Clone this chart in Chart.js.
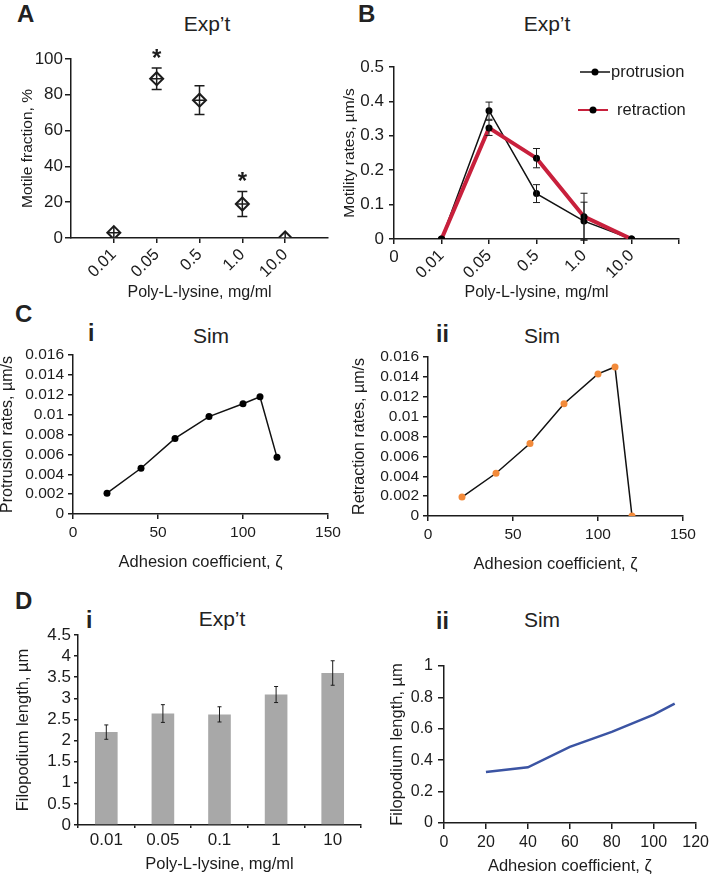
<!DOCTYPE html>
<html>
<head>
<meta charset="utf-8">
<script src="https://cdn.jsdelivr.net/npm/chart.js@4.4.1/dist/chart.umd.min.js"></script>
<style>
  body { margin: 0; width: 713px; height: 875px; position: relative; overflow: hidden; background: #fff;
         font-family: "Liberation Sans", Arial, sans-serif; color: #222; }
  canvas { position: absolute; }
  .lab { position: absolute; font-weight: bold; font-size: 24px; line-height: 1; }
  .sub { position: absolute; font-weight: bold; font-size: 23px; line-height: 1; }
  .ttl { position: absolute; font-size: 21px; line-height: 1; transform: translateX(-50%); white-space: nowrap; }
</style>
</head>
<body>
<div class="lab" style="left:17px;top:2px">A</div>
<div class="lab" style="left:358px;top:2px">B</div>
<div class="lab" style="left:15px;top:302px">C</div>
<div class="lab" style="left:15px;top:589px">D</div>
<div class="sub" style="left:88px;top:322px">i</div>
<div class="sub" style="left:436px;top:323px">ii</div>
<div class="sub" style="left:86px;top:609px">i</div>
<div class="sub" style="left:436px;top:610px">ii</div>
<div class="ttl" style="left:207px;top:13px">Exp’t</div>
<div class="ttl" style="left:547px;top:13px">Exp’t</div>
<div class="ttl" style="left:211px;top:325px">Sim</div>
<div class="ttl" style="left:542px;top:325px">Sim</div>
<div class="ttl" style="left:222px;top:608px">Exp’t</div>
<div class="ttl" style="left:542px;top:609px">Sim</div>
<script>
// A: motile fraction
const aLabels = ['0.01', '0.05', '0.5', '1.0', '10.0'];
const aMotile = [3, 89, 77, 19, 0];
const aErr = [0, 6, 8, 7, 0];
const aStar = [false, true, false, true, false];

// B: motility rates
const bLabels = ['0.01', '0.05', '0.5', '1.0', '10.0'];
const bProtrusion = [0, 0.373, 0.132, 0.052, 0];
const bProtErr = [0, 0.025, 0.026, 0.055, 0];
const bRetraction = [0, 0.323, 0.235, 0.065, 0];
const bRetrErr = [0, 0.022, 0.028, 0.068, 0];

// C: simulation rates
const adhesion = [20, 40, 60, 80, 100, 110, 120];
const cProtrusion = [0.0021, 0.0046, 0.0076, 0.0098, 0.0111, 0.0118, 0.0057];
const cRetraction = [0.0019, 0.0043, 0.0073, 0.0113, 0.0143, 0.0150, 0];

// D: filopodium length
const dLabels = ['0.01', '0.05', '0.1', '1', '10'];
const dLength = [2.2, 2.64, 2.62, 3.09, 3.6];
const dErr = [0.17, 0.21, 0.18, 0.19, 0.29];
const dSimX = [20, 40, 60, 80, 100, 110];
const dSimLength = [0.325, 0.355, 0.485, 0.58, 0.69, 0.76];

const INK = '#1c1c1c';
const RED = '#c8203c';
const ORANGE = '#f28a3a';
const BLUE = '#3b54a3';

Chart.defaults.font.family = '"Liberation Sans", Arial, sans-serif';
Chart.defaults.color = INK;
Chart.defaults.animation = false;
Chart.defaults.events = [];
Chart.defaults.plugins.legend.display = false;
Chart.defaults.plugins.tooltip.enabled = false;

const fmt = v => String(+(+v).toFixed(4));

function axis(o) {
  const a = {
    type: o.type || 'linear',
    min: o.min, max: o.max,
    offset: !!o.offset,
    border: { color: INK, width: o.lw || 1.5 },
    grid: { drawOnChartArea: false, color: INK, lineWidth: o.lw || 1.5, tickLength: o.tick, offset: !!o.offset },
    ticks: { font: { size: o.font }, padding: o.pad, stepSize: o.step, callback: o.cb || fmt,
             minRotation: o.rot || 0, maxRotation: o.rot || 0, autoSkip: false, color: INK },
    title: { display: true, text: o.title, font: { size: o.tfont || 16, lineHeight: 1 }, padding: 0, color: INK }
  };
  if (o.only) a.afterBuildTicks = s => { s.ticks = o.only.map(v => ({ value: v })); };
  return a;
}

// place a chart so its plot area lands on the given page box
function panel(box, plot, cfg) {
  const c = document.createElement('canvas');
  c.width = box.right - box.left;
  c.height = box.bottom - box.top;
  c.style.left = box.left + 'px';
  c.style.top = box.top + 'px';
  document.body.appendChild(c);
  cfg.options.responsive = false;
  cfg.options.layout = { padding: { left: 0, bottom: 0, top: plot.top - box.top, right: box.right - plot.right } };
  cfg.options.scales.x.afterFit = s => { s.height = box.bottom - plot.bottom; };
  cfg.options.scales.y.afterFit = s => { s.width = plot.left - box.left; };
  return new Chart(c, cfg);
}

function errBars(sets, after) {
  const draw = chart => {
    const { ctx, scales: { y } } = chart;
    ctx.save();
    sets.forEach(s => {
      chart.getDatasetMeta(s.ds).data.forEach((el, i) => {
        const e = s.err[i];
        if (!e) return;
        const y1 = y.getPixelForValue(s.vals[i] - e), y2 = y.getPixelForValue(s.vals[i] + e);
        ctx.strokeStyle = s.color;
        ctx.lineWidth = s.lw;
        ctx.beginPath();
        ctx.moveTo(el.x, y1); ctx.lineTo(el.x, y2);
        ctx.moveTo(el.x - s.cap, y1); ctx.lineTo(el.x + s.cap, y1);
        ctx.moveTo(el.x - s.cap, y2); ctx.lineTo(el.x + s.cap, y2);
        ctx.stroke();
      });
    });
    ctx.restore();
  };
  return after ? { id: 'errA', afterDatasetsDraw: draw } : { id: 'errB', beforeDatasetsDraw: draw };
}

// ---- A
const aPts = aMotile.map((v, i) => ({ x: i + 1, y: v }));
panel({ left: 20, top: 45, right: 345, bottom: 301 }, { left: 71, top: 59, right: 328, bottom: 238 }, {
  type: 'scatter',
  data: { datasets: [
    { data: aPts, pointStyle: 'cross', pointRadius: 6.5, borderColor: INK, borderWidth: 1.5 },
    { data: aPts, pointStyle: 'rectRot', pointRadius: 6.5, backgroundColor: '#fff', borderColor: INK, borderWidth: 2 }
  ] },
  options: { scales: {
    x: axis({ min: 0, max: 6, only: [1, 2, 3, 4, 5], cb: v => aLabels[v - 1] || '', rot: 45, font: 16.5, pad: 2, tick: 5,
              title: 'Poly-L-lysine, mg/ml' }),
    y: axis({ min: 0, max: 100, step: 20, font: 17, pad: 2, tick: 6, title: 'Motile fraction, %', tfont: 15.5 })
  } },
  plugins: [
    errBars([{ ds: 1, vals: aMotile, err: aErr, color: INK, lw: 1.5, cap: 5 }], false),
    { id: 'stars', afterDatasetsDraw(chart) {
        const { ctx, scales: { x, y } } = chart;
        ctx.save();
        ctx.font = 'bold 24px "Liberation Sans", Arial, sans-serif';
        ctx.fillStyle = INK;
        ctx.textAlign = 'center';
        aStar.forEach((s, i) => {
          if (s) ctx.fillText('*', x.getPixelForValue(i + 1), y.getPixelForValue(aMotile[i] + aErr[i]) - 2);
        });
        ctx.restore();
    } }
  ]
});

// ---- B
const bProtPts = bProtrusion.map((v, i) => ({ x: i + 1, y: v }));
const bRetrPts = bRetraction.map((v, i) => ({ x: i + 1, y: v }));
panel({ left: 342, top: 45, right: 700, bottom: 301 }, { left: 394, top: 67, right: 679, bottom: 239 }, {
  type: 'scatter',
  data: { datasets: [
    { data: bRetrPts, showLine: true, borderColor: RED, borderWidth: 4, pointRadius: 3.5,
      pointBackgroundColor: '#000', pointBorderColor: '#000', pointBorderWidth: 0 },
    { data: bProtPts, showLine: true, borderColor: '#111', borderWidth: 1.5, pointRadius: 3.5,
      pointBackgroundColor: '#000', pointBorderColor: '#000', pointBorderWidth: 0 }
  ] },
  options: { scales: {
    x: axis({ min: 0, max: 6, step: 1, cb: v => bLabels[v - 1] || '', rot: 45, font: 16.5, pad: 2, tick: 5,
              title: 'Poly-L-lysine, mg/ml' }),
    y: axis({ min: 0, max: 0.5, step: 0.1, font: 17, pad: 5, tick: 5, title: 'Motility rates, µm/s', tfont: 15.5 })
  } },
  plugins: [
    errBars([
      { ds: 1, vals: bProtrusion, err: bProtErr, color: INK, lw: 1, cap: 3.5 },
      { ds: 0, vals: bRetraction, err: bRetrErr, color: INK, lw: 1, cap: 3.5 }
    ], true),
    { id: 'bExtras', afterDraw(chart) {
        const { ctx, chartArea: a, scales: { x } } = chart;
        ctx.save();
        ctx.font = '17px "Liberation Sans", Arial, sans-serif';
        ctx.fillStyle = INK;
        ctx.textAlign = 'center';
        ctx.textBaseline = 'middle';
        ctx.fillText('0', x.getPixelForValue(0), a.bottom + 18);
        // legend
        ctx.font = '16.5px "Liberation Sans", Arial, sans-serif';
        const rows = [
          { label: 'protrusion', color: '#111', lw: 1.5, x0: a.right - 99, y: a.top + 5, tx: a.right - 68 },
          { label: 'retraction', color: RED, lw: 2, x0: a.right - 101, y: a.top + 43, tx: a.right - 62 }
        ];
        ctx.textAlign = 'left';
        rows.forEach(r => {
          ctx.strokeStyle = r.color; ctx.lineWidth = r.lw;
          ctx.beginPath(); ctx.moveTo(r.x0, r.y); ctx.lineTo(r.x0 + 30, r.y); ctx.stroke();
          ctx.fillStyle = '#000';
          ctx.beginPath(); ctx.arc(r.x0 + 15, r.y, 3.5, 0, Math.PI * 2); ctx.fill();
          ctx.fillStyle = INK;
          ctx.fillText(r.label, r.tx, r.y);
        });
        ctx.restore();
    } }
  ]
});

// ---- C i
panel({ left: 0, top: 340, right: 352, bottom: 571 }, { left: 73, top: 355, right: 328, bottom: 514 }, {
  type: 'scatter',
  data: { datasets: [
    { data: adhesion.map((x, i) => ({ x, y: cProtrusion[i] })), showLine: true, borderColor: '#111', borderWidth: 1.5,
      pointRadius: 3.5, pointBackgroundColor: '#000', pointBorderColor: '#000', pointBorderWidth: 0 }
  ] },
  options: { scales: {
    x: axis({ min: 0, max: 150, step: 50, font: 15.5, pad: 4, tick: 5, title: 'Adhesion coefficient, ζ', tfont: 16.5 }),
    y: axis({ min: 0, max: 0.016, step: 0.002, font: 15.5, pad: 4, tick: 5, title: 'Protrusion rates, µm/s', tfont: 16 })
  } }
});

// ---- C ii
panel({ left: 352, top: 340, right: 713, bottom: 573 }, { left: 428, top: 357, right: 683, bottom: 516 }, {
  type: 'scatter',
  data: { datasets: [
    { data: adhesion.map((x, i) => ({ x, y: cRetraction[i] })), showLine: true, borderColor: '#111', borderWidth: 1.5,
      pointRadius: 3.5, pointBackgroundColor: ORANGE, pointBorderColor: ORANGE, pointBorderWidth: 0 }
  ] },
  options: { scales: {
    x: axis({ min: 0, max: 150, step: 50, font: 15.5, pad: 4, tick: 5, title: 'Adhesion coefficient, ζ', tfont: 16.5 }),
    y: axis({ min: 0, max: 0.016, step: 0.002, font: 15.5, pad: 4, tick: 5, title: 'Retraction rates, µm/s', tfont: 16 })
  } }
});

// ---- D i
panel({ left: 15, top: 620, right: 370, bottom: 873 }, { left: 78, top: 635, right: 361, bottom: 825 }, {
  type: 'bar',
  data: { labels: dLabels, datasets: [
    { data: dLength, backgroundColor: '#a8a8a8', categoryPercentage: 1, barPercentage: 0.4 }
  ] },
  options: { scales: {
    x: axis({ type: 'category', offset: true, cb: function (v) { return this.getLabelForValue(v); },
              font: 17, pad: 2, tick: 3, title: 'Poly-L-lysine, mg/ml', tfont: 16.5 }),
    y: axis({ min: 0, max: 4.5, step: 0.5, font: 17, pad: 3, tick: 4, title: 'Filopodium length, µm', tfont: 16.5 })
  } },
  plugins: [errBars([{ ds: 0, vals: dLength, err: dErr, color: INK, lw: 1, cap: 2 }], true)]
});

// ---- D ii
panel({ left: 389, top: 620, right: 713, bottom: 875 }, { left: 444, top: 666, right: 697, bottom: 823 }, {
  type: 'scatter',
  data: { datasets: [
    { data: dSimX.map((x, i) => ({ x, y: dSimLength[i] })), showLine: true, borderColor: BLUE, borderWidth: 2.5, pointRadius: 0 }
  ] },
  options: { scales: {
    x: axis({ min: 0, max: 120, step: 20, font: 16, pad: 4, tick: 6, title: 'Adhesion coefficient, ζ', tfont: 16.5 }),
    y: axis({ min: 0, max: 1, step: 0.2, font: 16, pad: 5, tick: 6, title: 'Filopodium length, µm', tfont: 16.5 })
  } }
});
</script>
</body>
</html>
